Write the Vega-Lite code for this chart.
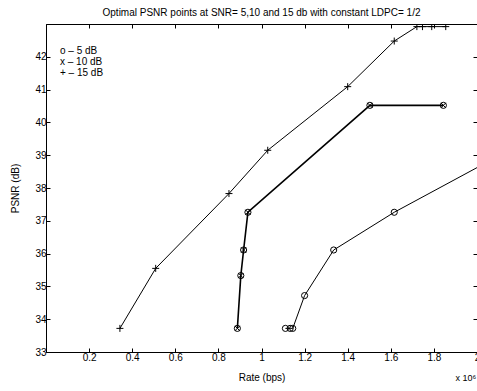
{
  "$schema": "https://vega.github.io/schema/vega-lite/v6.json",
  "width": 431,
  "height": 328,
  "autosize": "none",
  "padding": {"left": 46, "top": 24, "right": 0, "bottom": 39},
  "title": {"text": "Optimal PSNR points at SNR= 5,10 and 15 db with constant LDPC= 1/2", "fontSize": 10, "font": "Liberation Sans", "fontWeight": "normal", "color": "black", "offset": 6},
  "data": {"values": [
    {"snr": 5, "rate": 1.111, "psnr": 33.72},
    {"snr": 5, "rate": 1.133, "psnr": 33.72},
    {"snr": 5, "rate": 1.145, "psnr": 33.72},
    {"snr": 5, "rate": 1.200, "psnr": 34.72},
    {"snr": 5, "rate": 1.335, "psnr": 36.11},
    {"snr": 5, "rate": 1.616, "psnr": 37.26},
    {"snr": 5, "rate": 2.2, "psnr": 39.33},
    {"snr": 10, "rate": 0.888, "psnr": 33.72},
    {"snr": 10, "rate": 0.904, "psnr": 35.33},
    {"snr": 10, "rate": 0.917, "psnr": 36.11},
    {"snr": 10, "rate": 0.937, "psnr": 37.26},
    {"snr": 10, "rate": 1.503, "psnr": 40.52},
    {"snr": 10, "rate": 1.844, "psnr": 40.52},
    {"snr": 15, "rate": 0.343, "psnr": 33.72},
    {"snr": 15, "rate": 0.509, "psnr": 35.55},
    {"snr": 15, "rate": 0.849, "psnr": 37.83},
    {"snr": 15, "rate": 1.029, "psnr": 39.15},
    {"snr": 15, "rate": 1.400, "psnr": 41.09},
    {"snr": 15, "rate": 1.616, "psnr": 42.48},
    {"snr": 15, "rate": 1.721, "psnr": 42.92},
    {"snr": 15, "rate": 1.747, "psnr": 42.92},
    {"snr": 15, "rate": 1.790, "psnr": 42.92},
    {"snr": 15, "rate": 1.855, "psnr": 42.92}
  ]},
  "config": {
    "font": "Liberation Sans",
    "view": {"stroke": "black", "strokeWidth": 1},
    "axis": {
      "grid": false,
      "domainColor": "black",
      "tickColor": "black",
      "labelColor": "black",
      "titleColor": "black",
      "labelFont": "Liberation Sans",
      "titleFont": "Liberation Sans",
      "labelFontSize": 10,
      "titleFontSize": 10,
      "titleFontWeight": "normal",
      "tickSize": -4,
      "labelFlush": false,
      "labelOverlap": false,
      "labelBound": false
    }
  },
  "resolve": {"axis": {"x": "independent", "y": "independent"}},
  "layer": [
    {
      "mark": {"type": "line", "clip": true, "color": "black"},
      "encoding": {
        "x": {"field": "rate", "type": "quantitative", "scale": {"domain": [0, 2], "nice": false, "zero": false},
              "axis": {"orient": "bottom", "title": "Rate (bps)", "values": [0.2, 0.4, 0.6, 0.8, 1, 1.2, 1.4, 1.6, 1.8, 2], "format": "~g", "labelPadding": 4, "titlePadding": 10}},
        "y": {"field": "psnr", "type": "quantitative", "scale": {"domain": [33, 43], "nice": false, "zero": false},
              "axis": {"orient": "left", "title": "PSNR (dB)", "values": [33, 34, 35, 36, 37, 38, 39, 40, 41, 42], "labelPadding": 4, "titlePadding": 14}},
        "detail": {"field": "snr"},
        "strokeWidth": {"field": "snr", "type": "ordinal", "scale": {"type": "ordinal", "domain": [5, 10, 15], "range": [1, 1.6, 1]},
          "legend": {"orient": "none", "legendX": 4, "legendY": 22, "title": null, "symbolOpacity": 0, "symbolSize": 0, "symbolStrokeWidth": 0, "labelOffset": 0, "labelFontSize": 10, "labelColor": "black", "rowPadding": 1, "padding": 0,
            "labelExpr": "datum.value == 5 ? 'o – 5 dB' : datum.value == 10 ? 'x – 10 dB' : '+ – 15 dB'"}}
      }
    },
    {
      "transform": [{"filter": "datum.snr != 15"}],
      "mark": {"type": "point", "shape": "circle", "filled": false, "color": "black", "size": 38, "strokeWidth": 1, "clip": true, "opacity": 1},
      "encoding": {
        "x": {"field": "rate", "type": "quantitative", "axis": {"orient": "top", "title": null, "labels": false, "values": [0.2, 0.4, 0.6, 0.8, 1, 1.2, 1.4, 1.6, 1.8, 2]}},
        "y": {"field": "psnr", "type": "quantitative", "axis": {"orient": "right", "title": null, "labels": false, "values": [33, 34, 35, 36, 37, 38, 39, 40, 41, 42]}}
      }
    },
    {
      "transform": [{"filter": "datum.snr == 10"}],
      "mark": {"type": "point", "shape": "M-1,-1L1,1M-1,1L1,-1", "filled": false, "color": "black", "size": 25, "strokeWidth": 1, "clip": true, "opacity": 1},
      "encoding": {
        "x": {"field": "rate", "type": "quantitative", "axis": {"orient": "bottom", "domain": false, "ticks": false, "labels": false, "title": "x 10⁶", "titleFontSize": 9, "titleX": 409, "titleY": 25, "titleAlign": "left", "titleBaseline": "middle", "titleAnchor": null}},
        "y": {"field": "psnr", "type": "quantitative", "axis": null}
      }
    },
    {
      "transform": [{"filter": "datum.snr == 15"}],
      "mark": {"type": "point", "shape": "M-1,0L1,0M0,-1L0,1", "filled": false, "color": "black", "size": 49, "strokeWidth": 1, "clip": true, "opacity": 1},
      "encoding": {
        "x": {"field": "rate", "type": "quantitative", "axis": null},
        "y": {"field": "psnr", "type": "quantitative", "axis": null}
      }
    }
  ]
}
